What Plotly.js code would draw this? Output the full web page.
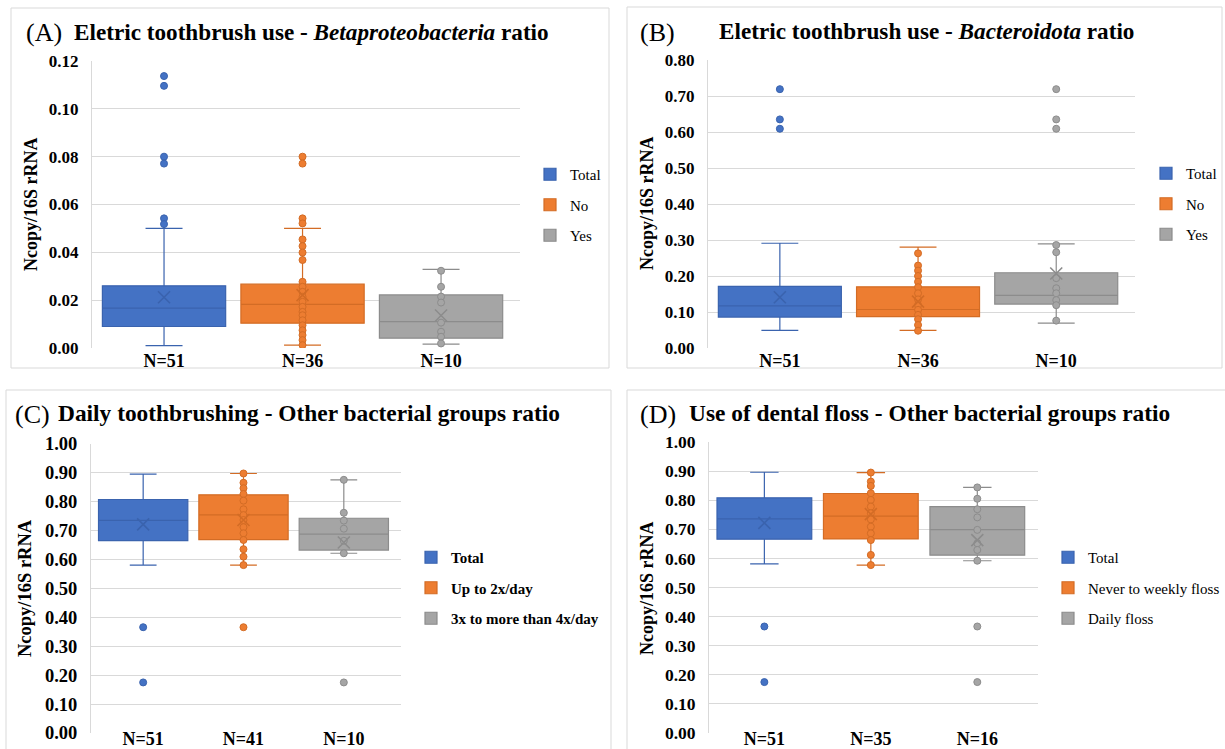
<!DOCTYPE html>
<html>
<head>
<meta charset="utf-8">
<script src="https://cdn.plot.ly/plotly-3.0.1.min.js"></script>
<style>html,body{margin:0;padding:0;background:#fff;}#chart{width:1225px;height:749px;}</style>
</head>
<body>
<div id="chart"></div>
<script>
// ---------- DATA ----------
// Panel A: Electric toothbrush use - Betaproteobacteria ratio
const catsA = ['N=51', 'N=36', 'N=10'];
const namesA = ['Total', 'No', 'Yes'];
const q1A = [0.0090, 0.0104, 0.0041];
const medA = [0.0167, 0.0182, 0.0110];
const q3A = [0.0260, 0.0267, 0.0222];
const loA = [0.0010, 0.0012, 0.0016];
const hiA = [0.0500, 0.0500, 0.0329];
const meanA = [0.0212, 0.0221, 0.0136];
const ptsA_total = [0.1137, 0.1096, 0.0800, 0.0771, 0.0542, 0.0518];
const ptsA_no = [0.0800, 0.0771, 0.0542, 0.0521, 0.0454, 0.0426, 0.0399, 0.0368, 0.0277, 0.0256, 0.0235, 0.0214, 0.0193, 0.0172, 0.0151, 0.0137, 0.0116, 0.0095, 0.0074, 0.0054, 0.0033, 0.0012];
const ptsA_yes = [0.0323, 0.0256, 0.0215, 0.0190, 0.0106, 0.0068, 0.0047, 0.0019];

// Panel B: Electric toothbrush use - Bacteroidota ratio
const catsB = ['N=51', 'N=36', 'N=10'];
const namesB = ['Total', 'No', 'Yes'];
const q1B = [0.086, 0.087, 0.122];
const medB = [0.117, 0.107, 0.146];
const q3B = [0.171, 0.170, 0.209];
const loB = [0.049, 0.049, 0.069];
const hiB = [0.291, 0.280, 0.289];
const meanB = [0.141, 0.129, 0.207];
const ptsB_total = [0.719, 0.635, 0.609];
const ptsB_no = [0.263, 0.229, 0.215, 0.200, 0.184, 0.169, 0.152, 0.135, 0.119, 0.106, 0.092, 0.080, 0.064, 0.048];
const ptsB_yes = [0.719, 0.635, 0.609, 0.286, 0.266, 0.194, 0.166, 0.152, 0.133, 0.119, 0.076];

// Panel C: Daily toothbrushing - Other bacterial groups ratio
const catsC = ['N=51', 'N=41', 'N=10'];
const namesC = ['Total', 'Up to 2x/day', '3x to more than 4x/day'];
const q1C = [0.666, 0.669, 0.633];
const medC = [0.736, 0.755, 0.688];
const q3C = [0.808, 0.824, 0.743];
const loC = [0.581, 0.581, 0.622];
const hiC = [0.896, 0.898, 0.876];
const meanC = [0.722, 0.737, 0.659];
const ptsC_total = [0.366, 0.175];
const ptsC_up = [0.898, 0.866, 0.847, 0.827, 0.804, 0.774, 0.754, 0.737, 0.712, 0.691, 0.668, 0.636, 0.610, 0.581, 0.366];
const ptsC_more = [0.876, 0.762, 0.735, 0.707, 0.665, 0.622, 0.175];

// Panel D: Use of dental floss - Other bacterial groups ratio
const catsD = ['N=51', 'N=35', 'N=16'];
const namesD = ['Total', 'Never to weekly floss', 'Daily floss'];
const q1D = [0.666, 0.667, 0.611];
const medD = [0.736, 0.745, 0.699];
const q3D = [0.808, 0.823, 0.778];
const loD = [0.581, 0.577, 0.592];
const hiD = [0.896, 0.895, 0.844];
const meanD = [0.722, 0.752, 0.663];
const ptsD_total = [0.366, 0.175];
const ptsD_never = [0.895, 0.864, 0.849, 0.824, 0.801, 0.778, 0.755, 0.734, 0.709, 0.686, 0.663, 0.612, 0.577];
const ptsD_daily = [0.844, 0.805, 0.769, 0.741, 0.698, 0.652, 0.629, 0.592, 0.366, 0.175];

// ---------- STYLE ----------
const FILL = ['#4472C4', '#ED7D31', '#A5A5A5'];
const LINE = ['#3A63AE', '#D36C25', '#8C8C8C'];
const FONT = 'Liberation Serif, Times New Roman, serif';
const W = 1225, H = 749;
const px = v => v / W;
const py = v => 1 - v / H;

const traces = [];
function panel(ax, legendId, cats, names, q1, med, q3, lo, hi, mean, ptsList) {
  const xa = 'x' + (ax === 1 ? '' : ax), ya = 'y' + (ax === 1 ? '' : ax);
  for (let i = 0; i < 3; i++) {
    traces.push({
      type: 'box', xaxis: xa, yaxis: ya, name: names[i], legend: legendId,
      legendgroup: legendId + i,
      x: [cats[i]], q1: [q1[i]], median: [med[i]], q3: [q3[i]],
      lowerfence: [lo[i]], upperfence: [hi[i]],
      width: 0.89, whiskerwidth: 0.3, boxpoints: false,
      fillcolor: FILL[i], line: {color: LINE[i], width: 1.2},
      hoverinfo: 'skip'
    });
  }
  for (let i = 0; i < 3; i++) {
    traces.push({
      type: 'scatter', mode: 'markers', xaxis: xa, yaxis: ya, showlegend: false,
      x: ptsList[i].map(() => cats[i]), y: ptsList[i],
      marker: {size: 7, color: FILL[i], line: {color: LINE[i], width: 1}},
      hoverinfo: 'y'
    });
    traces.push({
      type: 'scatter', mode: 'markers', xaxis: xa, yaxis: ya, showlegend: false,
      x: [cats[i]], y: [mean[i]],
      marker: {symbol: 'x-thin-open', size: 12, color: LINE[i], line: {color: LINE[i], width: 1.6}},
      hoverinfo: 'y'
    });
  }
}
panel(1, 'legend', catsA, namesA, q1A, medA, q3A, loA, hiA, meanA, [ptsA_total, ptsA_no, ptsA_yes]);
panel(2, 'legend2', catsB, namesB, q1B, medB, q3B, loB, hiB, meanB, [ptsB_total, ptsB_no, ptsB_yes]);
panel(3, 'legend3', catsC, namesC, q1C, medC, q3C, loC, hiC, meanC, [ptsC_total, ptsC_up, ptsC_more]);
panel(4, 'legend4', catsD, namesD, q1D, medD, q3D, loD, hiD, meanD, [ptsD_total, ptsD_never, ptsD_daily]);

function xax(l, r, anchor, size, standoff) {
  return {domain: [px(l), px(r)], anchor: anchor, type: 'category', range: [-0.52, 2.57],
    showgrid: false, zeroline: false, showline: false, ticks: '',
    tickfont: {family: FONT, size: size, color: '#000', weight: 'bold'}, ticklabelstandoff: standoff, fixedrange: true};
}
function yax(t, b, anchor, range, dtick, size) {
  return {domain: [py(b), py(t)], anchor: anchor, range: range, dtick: dtick, tickformat: '.2f',
    showgrid: true, gridcolor: '#D9D9D9', gridwidth: 1, zeroline: false,
    showline: true, linecolor: '#D9D9D9', linewidth: 1, ticks: '',
    tickfont: {family: FONT, size: size, color: '#000', weight: 'bold'}, ticklabelstandoff: 9, fixedrange: true};
}
function leg(x, y, bold) {
  return {x: px(x), y: py(y), xanchor: 'left', yanchor: 'top', traceorder: 'grouped', tracegroupgap: 8,
    bgcolor: 'rgba(0,0,0,0)', font: {family: FONT, size: 15, color: '#000', weight: bold ? 'bold' : 'normal'}};
}

function ann(x, y, text, size, opts) {
  return Object.assign({xref: 'paper', yref: 'paper', x: px(x), y: py(y), text: text, showarrow: false,
    xanchor: 'left', yanchor: 'middle', font: {family: FONT, size: size, color: '#000'}}, opts || {});
}
const yTitle = '<b>Ncopy/16S rRNA</b>';
const annotations = [
  ann(24, 33, '(A)', 26),
  ann(72, 32, '<b>Eletric toothbrush use - <i>Betaproteobacteria</i> ratio</b>', 23.2),
  ann(638, 33, '(B)', 26),
  ann(717, 31, '<b>Eletric toothbrush use - <i>Bacteroidota</i> ratio</b>', 23.2),
  ann(13, 414, '(C)', 26),
  ann(56, 413, '<b>Daily toothbrushing - Other bacterial groups ratio</b>', 23.4),
  ann(638, 414, '(D)', 26),
  ann(687, 413, '<b>Use of dental floss - Other bacterial groups ratio</b>', 23.4),
  ann(31, 204, yTitle, 18, {xanchor: 'center', textangle: -90}),
  ann(647, 203, yTitle, 18, {xanchor: 'center', textangle: -90}),
  ann(25, 588, yTitle, 18.5, {xanchor: 'center', textangle: -90}),
  ann(647, 588, yTitle, 18, {xanchor: 'center', textangle: -90})
];
function frame(l, t, r, b) {
  return {type: 'rect', xref: 'paper', yref: 'paper', x0: px(l), x1: px(r), y0: py(b), y1: py(t),
    line: {color: '#D9D9D9', width: 1}, fillcolor: 'rgba(0,0,0,0)', layer: 'below'};
}

const layout = {
  width: W, height: H, margin: {l: 0, r: 0, t: 0, b: 0},
  paper_bgcolor: '#fff', plot_bgcolor: 'rgba(0,0,0,0)',
  font: {family: FONT, color: '#000'},
  boxmode: 'overlay', hovermode: 'closest',
  xaxis: xax(92, 520, 'y', 18, 0),
  yaxis: yax(61, 348, 'x', [0, 0.12], 0.02, 17),
  xaxis2: xax(708, 1135, 'y2', 18, 0),
  yaxis2: yax(60, 348, 'x2', [0, 0.8], 0.1, 17),
  xaxis3: xax(91, 401, 'y3', 18, -7),
  yaxis3: yax(444, 733, 'x3', [0, 1], 0.1, 18.5),
  xaxis4: xax(709, 1038, 'y4', 18, -7),
  yaxis4: yax(442, 733, 'x4', [0, 1], 0.1, 17.5),
  legend: leg(530, 158, false),
  legend2: leg(1146, 157, false),
  legend3: leg(411, 541, true),
  legend4: leg(1048, 541, false),
  annotations: annotations,
  shapes: [frame(11, 8, 609, 368), frame(627, 7, 1222, 368), frame(6, 390, 611, 760), frame(627, 390, 1230, 760)]
};

Plotly.newPlot('chart', traces, layout, {displayModeBar: false, staticPlot: false});
</script>
</body>
</html>
